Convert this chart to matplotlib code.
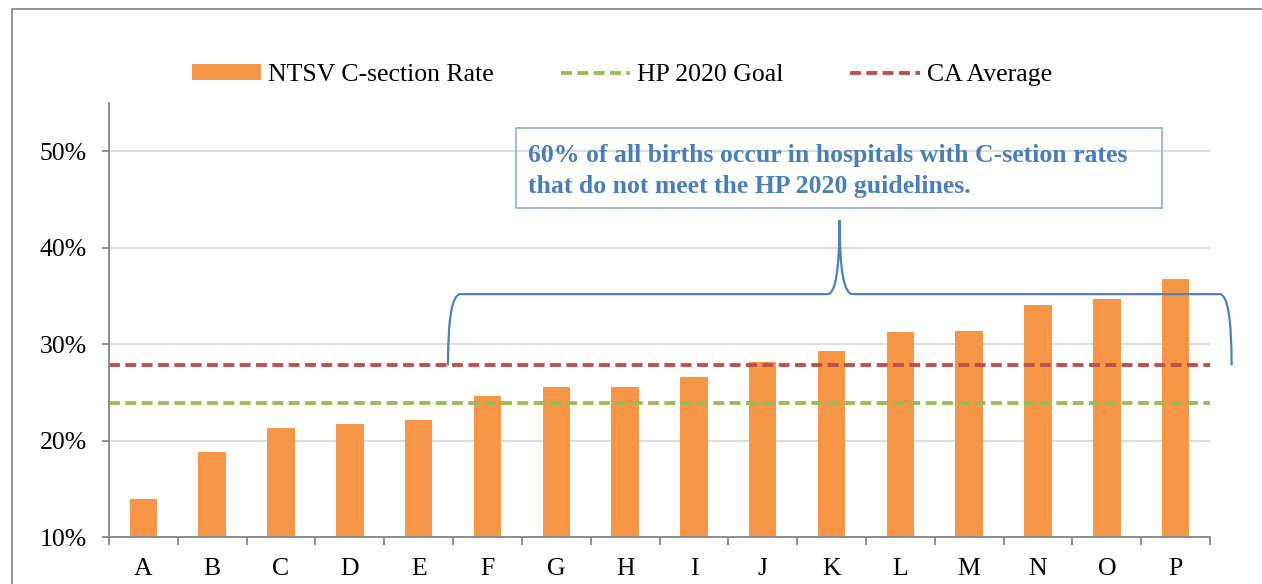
import numpy as np
import matplotlib
matplotlib.use("Agg")
import matplotlib.pyplot as plt
from matplotlib.path import Path
from matplotlib.patches import PathPatch, Rectangle
from matplotlib.lines import Line2D
from matplotlib.patches import Patch

hospitals = ["A", "B", "C", "D", "E", "F", "G", "H", "I", "J", "K", "L", "M", "N", "O", "P"]
ntsv_rate = [13.9, 18.8, 21.3, 21.7, 22.1, 24.6, 25.6, 25.6, 26.6, 28.1, 29.3, 31.3, 31.4, 34.1, 34.7, 36.7]
hp2020_goal = 23.9
ca_average = 27.8
yticks = [10, 20, 30, 40, 50]

orange = "#f79646"
green = "#9bbb59"
red = "#c0504d"
blue = "#4f81bd"
axis_gray = "#868686"
fs = 18.5

plt.rcParams["font.family"] = ["Liberation Serif", "DejaVu Serif"]

fig = plt.figure(figsize=(12.62, 5.84), dpi=100)
ax = fig.add_axes([109 / 1262, 1 - 537 / 584, (1210 - 109) / 1262, (537 - 103) / 584])

x = np.arange(len(hospitals))
ax.bar(x, ntsv_rate, width=0.4, bottom=0, color=orange, zorder=3)
ax.set_xlim(-0.5, len(hospitals) - 0.5)
ax.set_ylim(10, 55)

dash = (2.8, 1.4)
ax.axhline(hp2020_goal, color=green, lw=2.8, dashes=dash, zorder=4)
ax.axhline(ca_average, color=red, lw=2.8, dashes=dash, zorder=4)

ax.set_yticks(yticks)
ax.set_yticklabels([f"{v}%" for v in yticks])
ax.yaxis.grid(True, color="#d9d9d9", lw=1.3, zorder=0)
ax.set_xticks(x)
ax.set_xticklabels(hospitals)
ax.set_xticks(np.arange(-0.5, len(hospitals)), minor=True)
ax.tick_params(axis="x", which="major", length=0, pad=15, labelsize=fs)
ax.tick_params(axis="x", which="minor", length=6, width=1.3, color=axis_gray, direction="out")
ax.tick_params(axis="y", length=5, width=1.3, color=axis_gray, labelsize=fs, pad=11)
for s in ["top", "right"]:
    ax.spines[s].set_visible(False)
for s in ["left", "bottom"]:
    ax.spines[s].set_color(axis_gray)
    ax.spines[s].set_linewidth(1.3)
    ax.spines[s].set_zorder(5)

# brace over hospitals F..P
y_low = ca_average
y_mid = 10 + (537 - 294) / 9.65
y_peak = 10 + (537 - 220) / 9.65
def px(xp):
    return (xp - 143) / 68.8
verts = [
    (px(447.5), y_low),
    (px(447.5), y_mid), (px(460), y_mid),
    (px(827), y_mid),
    (px(839), y_mid), (px(839), y_peak),
    (px(839), y_mid), (px(852), y_mid),
    (px(1219), y_mid),
    (px(1231), y_mid), (px(1231), y_low),
]
codes = [Path.MOVETO, Path.CURVE3, Path.CURVE3, Path.LINETO,
         Path.CURVE3, Path.CURVE3, Path.CURVE3, Path.CURVE3,
         Path.LINETO, Path.CURVE3, Path.CURVE3]
ax.add_patch(PathPatch(Path(verts, codes), fill=False, edgecolor=blue, lw=1.6,
                       clip_on=False, zorder=6))

# callout box
fig.text(528 / 1262, 1 - 171 / 584,
         "60% of all births occur in hospitals with C-setion rates\nthat do not meet the HP 2020 guidelines.",
         ha="left", va="center", fontsize=fs, fontweight="bold", color="#4a7ebb",
         linespacing=1.45)
fig.patches.append(Rectangle((516 / 1262, 1 - 208 / 584), (1162 - 516) / 1262, 80 / 584,
                             transform=fig.transFigure, fill=False, edgecolor="#95b3d7", lw=1.3))

# outer frame
fig.patches.append(Rectangle((12 / 1262, -0.1), 1.2, 1.1 - 9 / 584,
                             transform=fig.transFigure, fill=False, edgecolor="#8c8c8c", lw=1.3))

handles = [Patch(facecolor=orange, edgecolor="none"),
           Line2D([], [], color=green, lw=2.8, dashes=dash),
           Line2D([], [], color=red, lw=2.8, dashes=dash)]
fig.legend(handles, ["NTSV C-section Rate", "HP 2020 Goal", "CA Average"],
           loc="center", bbox_to_anchor=(622 / 1262, 1 - 75 / 584), ncol=3, frameon=False,
           fontsize=fs, handlelength=2.7, handleheight=0.55, handletextpad=0.27,
           columnspacing=2.6, borderpad=0, borderaxespad=0)

fig.savefig("out.png", dpi=100)
